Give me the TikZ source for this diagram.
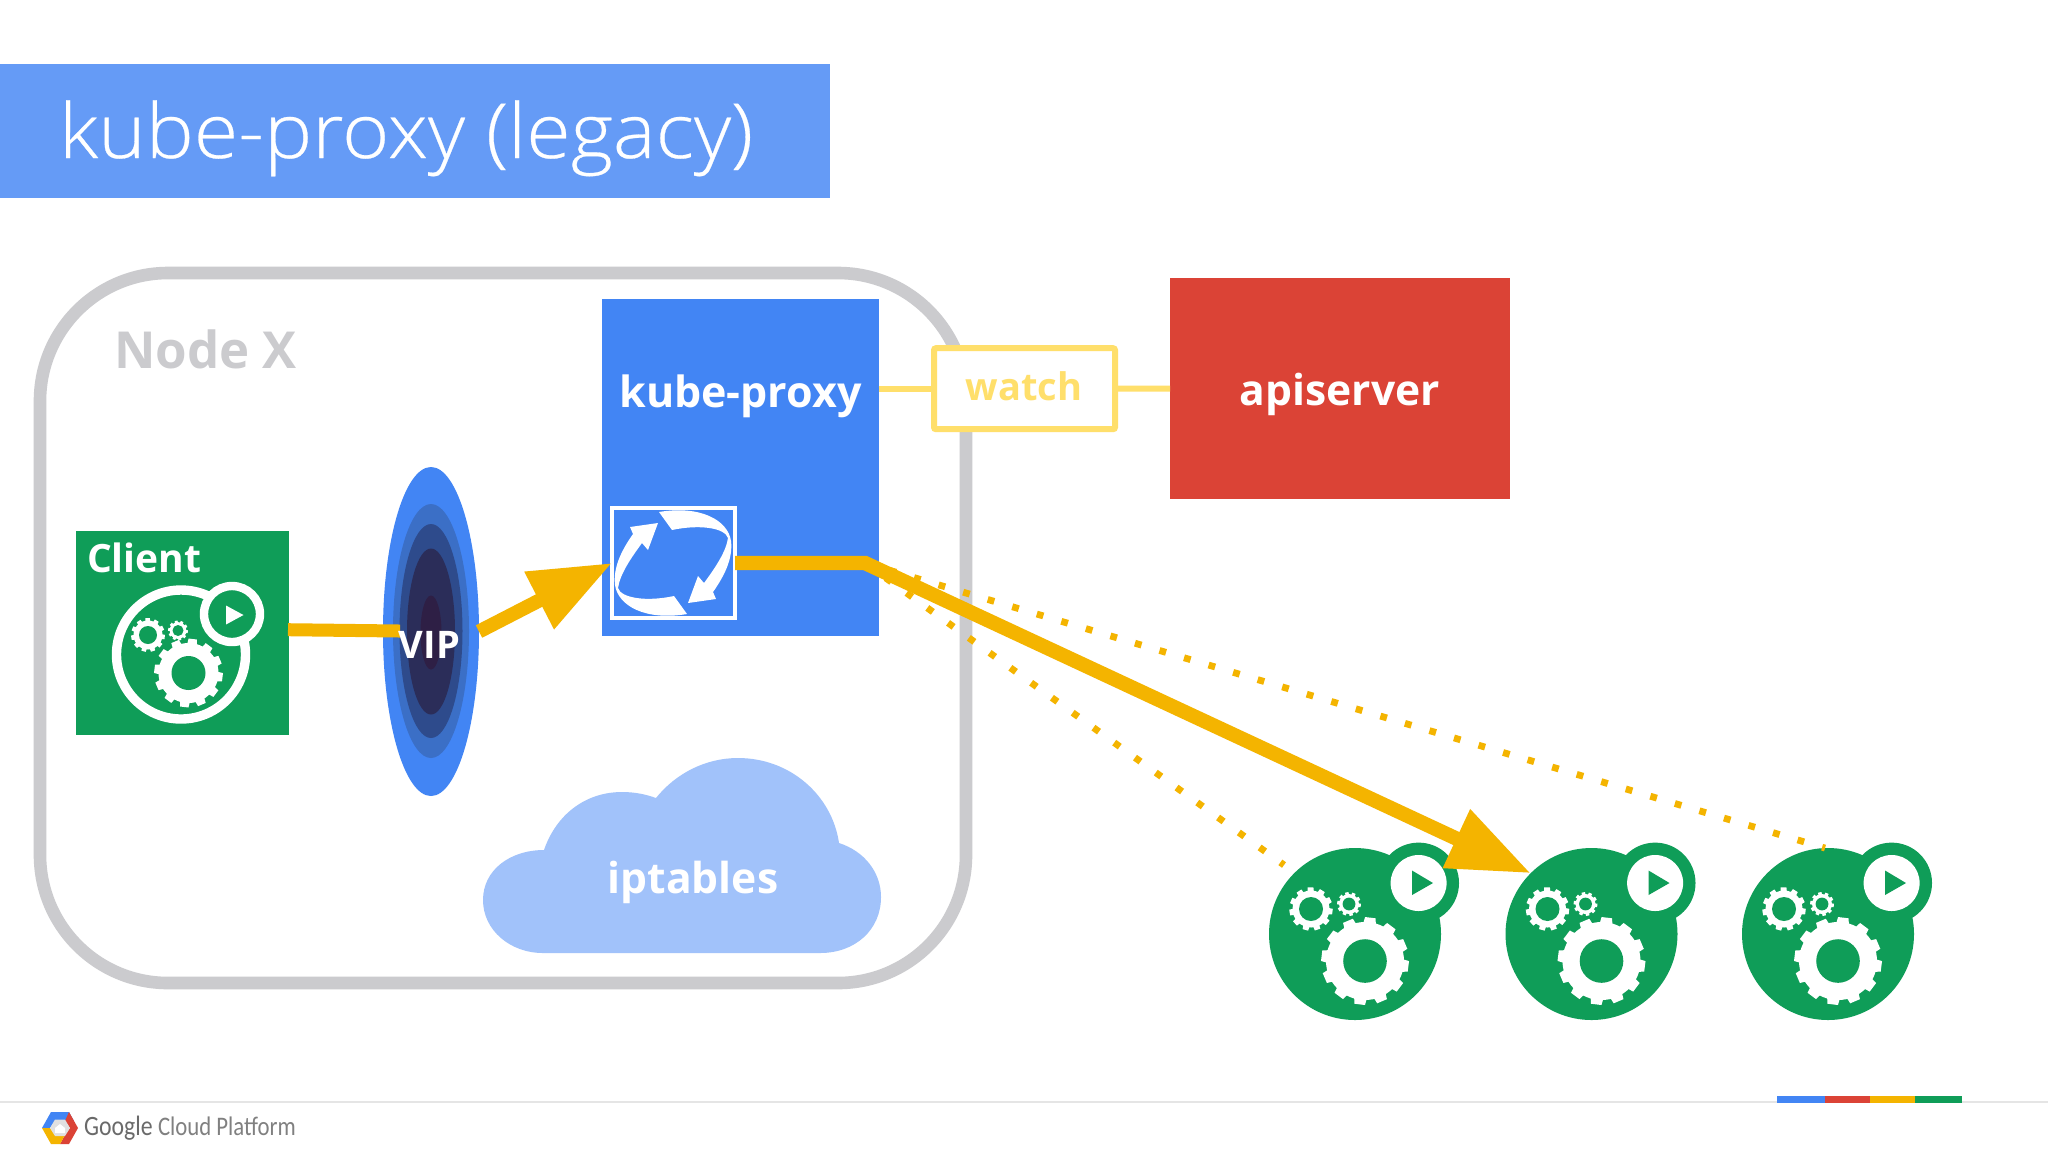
\documentclass[tikz,border=0pt]{standalone}
\usepackage{fontspec}
\setmainfont{Open Sans}
\newfontfamily\lightf[FakeStretch=1.063,FakeBold=0.35]{Open Sans Light}
\newfontfamily\footf[FakeStretch=0.85]{Carlito}
\usetikzlibrary{arrows.meta,shapes.geometric,calc}
\definecolor{gblue}{HTML}{4285F4}
\definecolor{gtitle}{HTML}{659BF6}
\definecolor{gred}{HTML}{DB4336}
\definecolor{gyellow}{HTML}{F4B400}
\definecolor{ggreen}{HTML}{0F9D58}
\definecolor{gcloud}{HTML}{A1C2FA}
\definecolor{ggrey}{HTML}{CBCBCE}
\definecolor{gwatch}{HTML}{FFDF6B}
\definecolor{gfoot}{HTML}{6A6A6A}
\definecolor{vipb}{HTML}{3B6FC6}
\definecolor{vipc}{HTML}{2E4B8C}
\definecolor{vipd}{HTML}{2B2D59}
\definecolor{vipe}{HTML}{2E1F45}
\newcommand\px[1]{#1*0.5pt}
\newcommand\gearicon[8]{%
  \begin{scope}[shift={(#1,#2)}]
    \fill[#7] (0,0) circle (#4);
    \pgfmathsetmacro\stp{360/#6}
    \foreach \k in {1,...,#6}{%
      \pgfmathsetmacro\ang{\k*\stp+7}
      \pgfmathsetmacro\aa{\stp*0.32}
      \pgfmathsetmacro\bb{\stp*0.23}
      \fill[#7] ({\ang-\aa}:{#4-1}) -- ({\ang-\bb}:#3) -- ({\ang+\bb}:#3) -- ({\ang+\aa}:{#4-1}) -- cycle;
    }
    \fill[#8] (0,0) circle (#5);
  \end{scope}}
\newcommand\podicon[2]{%
  \node[disc,minimum size=\px{172}] (#1) at (#2,934) {};
  \begin{scope}[shift={(#2,934)}]
    \fill[ggreen] (63.6,-51) circle (40.4);
    \fill[white] (63.6,-51) circle (28);
    \fill[ggreen] (57,-63.5) -- (78,-51) -- (57,-39) -- cycle;
  \end{scope}
  \gearicon{#2-44}{909}{21.8}{18.5}{12}{11}{white}{ggreen}
  \gearicon{#2-6}{904}{12}{10}{6.4}{10}{white}{ggreen}
  \gearicon{#2+10}{961}{44}{39}{21.8}{12}{white}{ggreen}}
\tikzset{
  box/.style={rectangle,inner sep=0pt,outer sep=0pt,draw=none},
  disc/.style={circle,inner sep=0pt,outer sep=0pt,fill=ggreen},
  lens/.style={ellipse,inner sep=0pt,outer sep=0pt},
  lbl/.style={inner sep=0pt,outer sep=0pt,anchor=base,text=white,font=\bfseries},
  shaft/.style={draw=gyellow,line width=6.5pt,line join=miter},
  tip/.style={-{Triangle[length=41pt,width=30.5pt]}},
  dots/.style={draw=gyellow,line width=3.4pt,dash pattern=on 3.4pt off 9.4pt},
  link/.style={draw=gwatch,line width=3pt},
}
\begin{document}
\begin{tikzpicture}[x=0.5pt,y=-0.5pt]
\useasboundingbox (0,0) rectangle (2048,1153);
\fill[white] (0,0) rectangle (2048,1153);
% title
\node[box,fill=gtitle,minimum width=\px{830},minimum height=\px{134},anchor=north west] (titlebar) at (0,64) {};
\node[lbl,font=\lightf\fontsize{38}{44}\selectfont,anchor=base west] (titletext) at (59,158) {kube-proxy (legacy)};
% node X
\node[box,draw=ggrey,line width=6.3pt,rounded corners=64pt,minimum width=\px{926},minimum height=\px{710},anchor=north west] (nodex) at (40,273) {};
\node[lbl,text=ggrey,font=\bfseries\fontsize{25.5}{30}\selectfont,anchor=base west] (nodexlabel) at (114,368) {Node X};
% kube-proxy
\node[box,fill=gblue,minimum width=\px{277},minimum height=\px{337},anchor=north west] (kube) at (601.5,298.5) {};
\node[lbl,font=\bfseries\fontsize{21.5}{26}\selectfont] (kubelabel) at (740.5,407) {kube-proxy};
% sync icon
\node[box,draw=white,line width=1.8pt,minimum width=\px{123},minimum height=\px{109.5}] (sync) at (673.5,563) {};
\foreach \r in {0,180}{
  \fill[white,rotate around={\r:(673,563)}] (659,512) .. controls (700,505) and (728,520) .. (731,541)
    .. controls (733,558) and (725,575) .. (713,592) -- (716,599) -- (688,603) -- (698,576) -- (704,583)
    .. controls (715,568) and (726,552) .. (728,538) .. controls (725,528) and (700,524) .. (672,530) -- cycle;
}
% apiserver + watch
\node[box,fill=gred,minimum width=\px{340},minimum height=\px{221},anchor=north west] (api) at (1170,278) {};
\node[lbl,font=\bfseries\fontsize{21.3}{26}\selectfont] (apilabel) at (1340,405) {apiserver};
\node[box,draw=gwatch,fill=white,line width=3pt,rounded corners=1pt,minimum width=\px{181},minimum height=\px{81}] (watch) at (1024.5,388.7) {};
\node[lbl,text=gwatch,font=\bfseries\fontsize{19}{26}\selectfont] (watchlabel) at (1024,400.5) {watch};
\draw[link] (kube.east |- watch.west) -- (watch.west);
\draw[link] (watch.east) -- (api.west);
% client
\node[box,fill=ggreen,minimum width=\px{213},minimum height=\px{204},anchor=north west] (client) at (75.5,531) {};
\node[lbl,font=\bfseries\fontsize{19.5}{22}\selectfont,anchor=base west] (clientlabel) at (87,572) {Client};
\draw[white,line width=4.7pt,fill=ggreen] (181,654.5) circle (64.5);
\draw[white,line width=4.2pt,fill=ggreen] (232,614) circle (28);
\fill[white] (226,605.5) -- (243.5,615) -- (226,624.5) -- cycle;
\gearicon{148}{635}{17}{14.5}{9}{11}{white}{ggreen}
\gearicon{178}{630.5}{10}{8.4}{5.5}{10}{white}{ggreen}
\gearicon{188.5}{673}{34.5}{30}{17}{12}{white}{ggreen}
% VIP
\node[lens,fill=gblue,minimum width=\px{96},minimum height=\px{329}] (vip) at (431,631.5) {};
\fill[fill=vipb] (431,631) ellipse (38 and 127);
\fill[fill=vipc] (431,631) ellipse (31.5 and 107);
\fill[fill=vipd] (431,631.5) ellipse (24 and 83);
\fill[fill=vipe] (431,632.5) ellipse (10.5 and 37);
\coordinate (vipin) at (400,631);
\coordinate (clientout) at (288,629.7);
\draw[shaft] (clientout) -- (vipin);
\node[lbl,font=\bfseries\fontsize{19}{22}\selectfont] (viplabel) at (429.5,658) {VIP};
% cloud
\path[fill=gcloud] (543,953) .. controls (510,953) and (483,930) .. (483,900)
  .. controls (483,870) and (510,850) .. (544,850) .. controls (556,815) and (585,792) .. (622,792)
  .. controls (634,792) and (645,794) .. (656,798) .. controls (676,773) and (706,758) .. (738,758)
  .. controls (790,758) and (832,795) .. (839,843) .. controls (864,851) and (881,872) .. (881,897)
  .. controls (881,930) and (855,953) .. (820,953) -- cycle;
\node[lbl,font=\bfseries\fontsize{21.3}{26}\selectfont] (iptables) at (693,893) {iptables};
% pods
\podicon{pod1}{1355}
\podicon{pod2}{1591.5}
\podicon{pod3}{1828}
% connectors
\draw[shaft,line width=7pt,tip] (vip.east) -- (sync.west);
\coordinate (bend) at (865,563);
\coordinate (pod1in) at (1284,865);
\draw[dots] (bend) -- (pod1in);
\draw[dots] (bend) -- (pod3.92);
\draw[shaft,line width=7.2pt,tip] (sync.east) -- (bend) -- (pod2.135);
% footer
\draw[color=black!10,line width=0.8pt] (0,1102) -- (2048,1102);
\fill[gblue] (1777,1096) rectangle (1824.5,1103);
\fill[gred] (1824.5,1096) rectangle (1869.5,1103);
\fill[gyellow] (1869.5,1096) rectangle (1915,1103);
\fill[ggreen] (1915,1096) rectangle (1962,1103);
% logo
\fill[gblue] (42,1128) -- (51,1112) -- (69,1112) -- (74,1121) -- (65,1121) -- (55,1121) -- (50,1128) -- cycle;
\fill[gred] (69,1112) -- (78,1128) -- (69,1144) -- (60,1144) -- (65,1135) -- (70,1128) -- (65,1121) -- cycle;
\fill[gyellow] (42,1128) -- (50,1128) -- (55,1135) -- (65,1135) -- (60,1144) -- (51,1144) -- cycle;
\fill[black!12] (50,1128) -- (55,1119.5) -- (65,1119.5) -- (70,1128) -- (65,1136) -- (55,1136) -- cycle;
\fill[white] (60,1124) -- (65,1128) -- (65,1133) -- (55,1133) -- (55,1128) -- cycle;
\node[lbl,text=gfoot,font=\footf\fontsize{14}{16}\selectfont,anchor=base west] (google) at (84,1135) {Google};
\node[lbl,text=gfoot!85,font=\footf\fontsize{13.4}{16}\selectfont,anchor=base west] (gcp) at (158,1135) {Cloud Platform};
\end{tikzpicture}
\end{document}
